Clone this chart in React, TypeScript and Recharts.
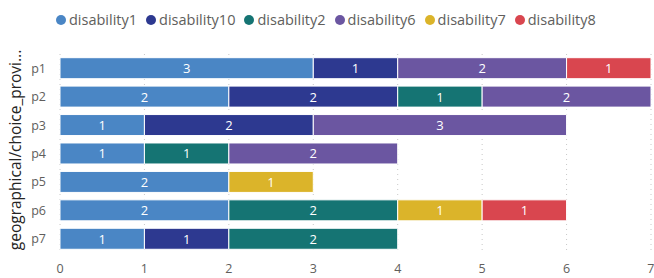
import { BarChart, Bar, XAxis, YAxis, CartesianGrid, LabelList } from 'recharts';

const categories = ['p1', 'p2', 'p3', 'p4', 'p5', 'p6', 'p7'];

const seriesNames = ['disability1', 'disability10', 'disability2', 'disability6', 'disability7', 'disability8'];

const disability1 = [3, 2, 1, 1, 2, 2, 1];
const disability10 = [1, 2, 2, null, null, null, 1];
const disability2 = [null, 1, null, 1, null, 2, 2];
const disability6 = [2, 2, 3, 2, null, null, null];
const disability7 = [null, null, null, null, 1, 1, null];
const disability8 = [1, null, null, null, null, 1, null];

const xTicks = [0, 1, 2, 3, 4, 5, 6, 7];

const COLORS = ['#4a86c5', '#2d3990', '#157473', '#6b56a1', '#dbb42a', '#d9464f'];

const FONT = '"Open Sans", sans-serif';

const values = [disability1, disability10, disability2, disability6, disability7, disability8];

// one row per category
const chartData = categories.map((name, i) => {
  const row: Record<string, string | number | null> = { name };
  seriesNames.forEach((s, j) => {
    row[s] = values[j][i];
  });
  return row;
});

function BarValue(props: any) {
  const { x, y, width, height, value } = props;
  if (value == null || value === 0) return null;
  return (
    <text
      x={x + width / 2}
      y={y + height / 2}
      textAnchor="middle"
      dominantBaseline="central"
      fill="#ffffff"
      fontSize={13}
      fontFamily={FONT}
    >
      {value}
    </text>
  );
}

function AxisTitle() {
  return (
    <text
      x={0}
      y={0}
      transform="translate(21, 150) rotate(-90)"
      textAnchor="middle"
      fill="#252423"
      fontSize={15.5}
      fontFamily={FONT}
    >
      geographical/choice_provi...
    </text>
  );
}

export default function App() {
  return (
    <div style={{ position: 'absolute', left: 0, top: 0, width: 654, height: 278, background: '#fff' }}>
      <div
        style={{
          position: 'absolute',
          left: 56,
          top: 10,
          display: 'flex',
          gap: 9,
          fontFamily: FONT,
          fontSize: 14.5,
          lineHeight: '20px',
          color: '#605e5c',
          whiteSpace: 'nowrap',
          zIndex: 1,
        }}
      >
        {seriesNames.map((s, i) => (
          <div key={s} style={{ display: 'flex', alignItems: 'center' }}>
            <span
              style={{
                display: 'inline-block',
                width: 10,
                height: 10,
                borderRadius: '50%',
                background: COLORS[i],
                marginRight: 3,
              }}
            />
            {s}
          </div>
        ))}
      </div>
      <BarChart
        width={654}
        height={278}
        data={chartData}
        layout="vertical"
        margin={{ top: 54, right: 3, left: 0, bottom: 5 }}
        barCategoryGap="13%"
      >
        <CartesianGrid horizontal={false} stroke="#c8c8c8" strokeDasharray="1 4" />
        <XAxis
          type="number"
          domain={[0, 7]}
          ticks={xTicks}
          axisLine={false}
          tickLine={false}
          tickMargin={5}
          height={20}
          tick={{ fill: '#605e5c', fontSize: 12.5, fontFamily: FONT }}
        />
        <YAxis
          type="category"
          dataKey="name"
          width={60}
          axisLine={false}
          tickLine={false}
          tickMargin={8}
          tick={{ fill: '#605e5c', fontSize: 12.5, fontFamily: FONT }}
          label={<AxisTitle />}
        />
        {seriesNames.map((s, i) => (
          <Bar
            key={s}
            dataKey={s}
            stackId="a"
            fill={COLORS[i]}
            stroke="#ffffff"
            strokeWidth={1}
            isAnimationActive={false}
          >
            <LabelList dataKey={s} content={<BarValue />} />
          </Bar>
        ))}
      </BarChart>
    </div>
  );
}
